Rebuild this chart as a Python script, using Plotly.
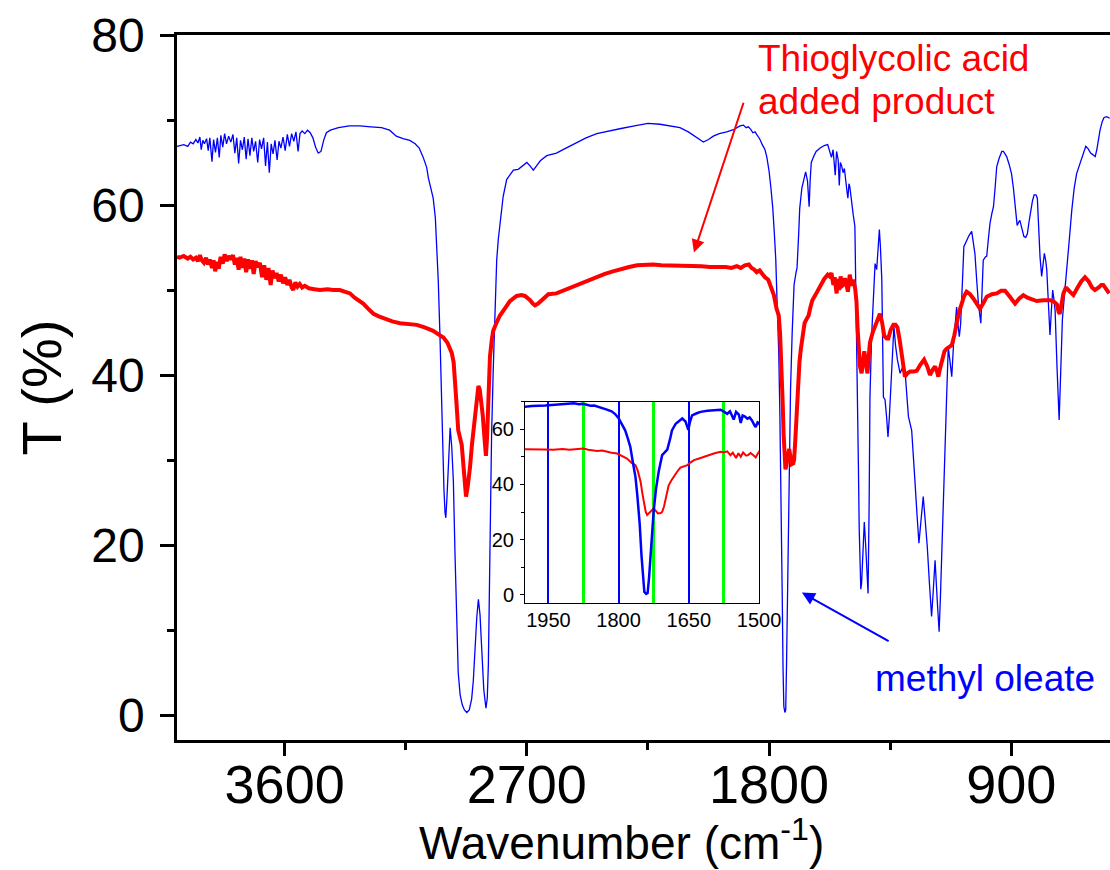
import plotly.graph_objects as go

# ---------------- methyl oleate (blue) ----------------
mo_wn_1 = [4000, 3990, 3975, 3960, 3950, 3940, 3930, 3922, 3915, 3910,
           3904, 3898, 3890, 3884, 3878, 3870, 3864, 3857, 3850, 3843,
           3837, 3830, 3823, 3816, 3808, 3800, 3792, 3785, 3778, 3771,
           3764, 3757, 3750, 3743, 3736, 3729, 3722, 3715, 3708, 3700,
           3693, 3686, 3678, 3671, 3664, 3657, 3650, 3643, 3636, 3628,
           3621, 3614, 3606, 3598, 3590, 3582, 3574, 3566, 3558, 3550,
           3543, 3535, 3525, 3515, 3505, 3495, 3485, 3475, 3465, 3455,
           3445, 3430, 3400, 3360, 3320, 3280, 3240, 3210, 3185, 3160,
           3135, 3115, 3100]
mo_t_1 = [66.9, 67.0, 67.1, 66.9, 67.4, 67.2, 67.7, 67.3, 68.0, 66.5,
          67.6, 67.2, 67.8, 66.4, 67.9, 65.1, 67.7, 66.2, 67.9, 65.6,
          68.2, 66.8, 68.4, 67.2, 68.1, 67.4, 68.3, 66.1, 67.9, 64.9,
          67.6, 66.5, 68.0, 65.4, 67.8, 65.8, 67.9, 66.3, 67.5, 65.0,
          67.7, 66.6, 67.9, 64.6, 67.4, 63.8, 67.2, 66.0, 67.6, 65.3,
          67.5, 66.7, 68.0, 66.4, 68.3, 66.9, 68.4, 67.5, 68.6, 66.3,
          68.4, 68.7, 68.4, 68.8, 68.5, 67.9, 66.8, 66.1, 66.3, 67.6,
          68.5, 68.8, 69.1, 69.3, 69.3, 69.2, 69.1, 68.8, 68.1, 67.8,
          67.6, 67.2, 66.7]

mo_wn_2 = [3085, 3072, 3066, 3058, 3048, 3040, 3035, 3029, 3023, 3018,
           3013, 3008, 3004, 3001, 2997, 2991, 2985, 2979, 2973, 2967,
           2961, 2955, 2948, 2940, 2932, 2923, 2914, 2905, 2899, 2893,
           2886, 2880, 2874, 2868, 2860, 2852, 2847, 2843, 2840, 2837,
           2831, 2825, 2818, 2812, 2806, 2800, 2788, 2775, 2760, 2750,
           2732, 2715, 2700, 2688, 2676, 2664, 2650, 2626, 2590]
mo_t_2 = [65.6, 64.4, 63.2, 62.0, 60.8, 58.5, 55.6, 51.0, 44.8, 38.0,
          31.8, 26.5, 23.8, 23.2, 25.5, 30.5, 33.8, 31.5, 27.5, 19.0,
          10.2, 5.0, 2.4, 1.2, 0.6, 0.3, 0.6, 1.9, 4.0, 8.0,
          11.5, 13.6, 11.8, 8.0, 3.0, 0.8, 2.0, 5.9, 14.0, 23.2,
          33.0, 40.5, 48.0, 53.5, 56.0, 57.8, 61.0, 63.0, 63.7, 64.1,
          64.2, 64.6, 65.0, 64.6, 64.1, 64.6, 65.2, 65.8, 66.1]

mo_wn_3 = [2560, 2520, 2480, 2440, 2400, 2350, 2300, 2250, 2205, 2170,
           2131, 2100, 2081, 2060, 2044, 2025, 2007, 1985, 1957, 1930,
           1908, 1895, 1885, 1877, 1868, 1860, 1852, 1846, 1835, 1825,
           1815, 1808, 1800, 1793, 1786, 1780, 1775, 1770, 1764, 1760,
           1755, 1751, 1748, 1745, 1741, 1738, 1735, 1732, 1728, 1725,
           1720, 1714, 1707, 1700, 1696, 1690, 1686, 1678, 1670, 1664,
           1657, 1651, 1647, 1643, 1633, 1625, 1610, 1595, 1582, 1575,
           1568, 1562, 1558, 1554, 1549, 1543, 1539, 1535, 1530, 1525,
           1520, 1515, 1510, 1507, 1503, 1500]
mo_t_3 = [66.6, 67.3, 67.9, 68.4, 68.7, 69.0, 69.3, 69.6, 69.5, 69.3,
          69.1, 68.6, 68.2, 67.7, 67.4, 67.7, 68.1, 68.4, 68.6, 68.9,
          69.3, 69.4, 69.1, 69.2, 68.9, 68.5, 68.6, 68.3, 67.8, 67.1,
          66.5, 65.6, 64.0, 62.0, 59.6, 56.5, 53.6, 48.5, 42.7, 36.0,
          25.8, 14.0, 5.5, 1.0, 0.3, 0.6, 6.0, 14.0, 23.0, 30.5,
          38.5, 45.0, 50.6, 52.0, 52.6, 56.5, 59.6, 62.0, 63.0, 63.9,
          62.8, 59.8, 63.0, 65.0, 65.8, 66.3, 66.7, 67.0, 67.1, 66.4,
          65.6, 66.5, 65.2, 63.5, 66.3, 65.3, 62.3, 65.0, 64.6, 63.8,
          64.3, 63.2, 61.5, 60.8, 62.5, 62.2]

mo_wn_4 = [1493, 1487, 1481, 1477, 1473, 1468, 1465, 1462, 1459, 1456,
           1451, 1446, 1441, 1436, 1432, 1428, 1425, 1419, 1413, 1406,
           1400, 1396, 1390, 1386, 1381, 1375, 1369, 1363, 1358, 1353,
           1348, 1342, 1336, 1330, 1323, 1313, 1305, 1295, 1288, 1282,
           1270, 1264, 1258, 1250, 1243, 1235, 1227, 1220, 1212, 1204,
           1196, 1190, 1183, 1175, 1168, 1163, 1158, 1152, 1146, 1140,
           1134, 1128, 1121, 1115, 1109, 1103, 1098, 1093, 1088, 1084,
           1080, 1076, 1066, 1057, 1047, 1041, 1035, 1028, 1022, 1013,
           1008, 1004, 996, 991, 985, 979, 972, 966, 960, 954,
           945, 935, 929, 917, 908, 899, 892, 886, 878, 872,
           868, 860, 853, 846, 840, 834, 828, 821, 815, 808,
           803, 798, 793, 787, 782, 777, 772, 768, 762, 756,
           751, 746, 741, 737, 730, 725, 722, 716, 710, 702,
           694, 684, 675, 666, 657, 650, 644, 633, 623, 614,
           605, 596, 588, 582, 577, 570, 562, 555, 545, 534]
mo_t_4 = [60.0, 58.8, 57.5, 50.0, 41.0, 29.6, 22.0, 15.3, 14.8, 15.5,
          19.5, 22.7, 20.0, 15.5, 14.3, 25.0, 37.4, 44.5, 49.2, 53.1,
          52.4, 54.5, 57.1, 55.0, 51.2, 37.4, 37.1, 35.0, 32.7, 35.0,
          37.8, 42.0, 45.7, 43.5, 41.8, 40.2, 40.8, 40.6, 38.0, 35.1,
          33.5, 31.0, 27.6, 23.5, 20.2, 23.0, 25.7, 23.0, 19.8, 15.5,
          11.6, 14.5, 18.2, 13.5, 9.8, 14.0, 19.8, 25.5, 31.6, 37.5,
          43.3, 41.5, 39.8, 43.3, 46.0, 48.0, 46.0, 44.5, 46.0, 48.4,
          52.0, 55.1, 55.9, 56.4, 56.9, 55.8, 54.3, 51.0, 48.4, 46.1,
          50.0, 53.5, 53.9, 54.0, 56.0, 57.8, 59.0, 59.8, 62.0, 64.5,
          65.5, 66.3, 66.3, 65.7, 64.8, 63.7, 62.0, 60.2, 57.6, 58.0,
          58.2, 57.2, 56.3, 56.2, 56.6, 58.0, 59.4, 60.5, 61.2, 61.2,
          60.8, 57.0, 53.9, 51.6, 53.0, 54.3, 53.5, 52.4, 48.5, 44.7,
          47.5, 50.0, 48.8, 47.6, 41.0, 36.5, 34.7, 40.5, 46.5, 49.5,
          52.0, 56.0, 59.4, 62.0, 63.7, 64.4, 64.9, 66.0, 66.9, 66.6,
          66.1, 65.9, 65.7, 66.5, 67.6, 68.8, 69.8, 70.3, 70.4, 70.2]

# ---------------- thioglycolic acid added product (red) ----------------
tga_wn_1 = [4000, 3990, 3975, 3960, 3950, 3940, 3930, 3922, 3915, 3908,
            3900, 3892, 3885, 3878, 3870, 3864, 3858, 3852, 3845, 3838,
            3830, 3823, 3815, 3808, 3800, 3792, 3785, 3778, 3771, 3764,
            3757, 3750, 3743, 3736, 3729, 3722, 3715, 3708, 3700, 3692,
            3684, 3676, 3668, 3660, 3652, 3645, 3638, 3630, 3622, 3614,
            3606, 3598, 3590, 3582, 3574, 3568, 3560, 3552, 3544, 3535,
            3525, 3510, 3490, 3469, 3440, 3420, 3395, 3375, 3357, 3340,
            3325, 3308, 3290, 3270, 3250, 3233, 3200, 3171]
tga_t_1 = [53.9, 53.8, 54.0, 53.7, 53.9, 53.6, 53.8, 53.4, 54.1, 53.5,
           53.2, 53.8, 53.0, 53.6, 52.6, 53.5, 52.2, 53.3, 52.5, 53.9,
           53.1, 54.2, 53.4, 54.0, 53.6, 54.1, 53.0, 53.8, 52.4, 53.9,
           52.6, 53.7, 52.1, 53.6, 52.5, 53.5, 51.9, 53.4, 52.7, 53.2,
           51.5, 52.9, 51.2, 52.6, 50.6, 52.3, 51.4, 52.0, 51.0, 51.8,
           50.8, 51.5, 50.6, 51.2, 50.3, 50.0, 50.9, 50.4, 50.7, 50.3,
           50.5, 50.2, 50.1, 50.0, 50.1, 50.0, 50.0, 49.8, 49.6, 49.1,
           48.8, 48.4, 47.8, 47.2, 46.9, 46.7, 46.3, 46.1]

tga_wn_2 = [3140, 3109, 3080, 3048, 3030, 3010, 2995, 2985, 2979, 2972,
            2967, 2961, 2955, 2948, 2942, 2936, 2931, 2926, 2920, 2915,
            2911, 2904, 2896, 2888, 2880, 2875, 2870, 2864, 2858, 2852,
            2848, 2843, 2840, 2837, 2830, 2825, 2812, 2800, 2780, 2763,
            2738, 2720, 2707, 2695, 2688, 2678, 2670, 2658, 2645, 2630,
            2620]
tga_t_2 = [46.0, 45.9, 45.6, 45.2, 44.8, 44.4, 43.8, 43.0, 42.6, 41.5,
           39.6, 36.5, 33.5, 32.5, 31.8, 29.5, 27.3, 25.7, 26.8, 28.0,
           29.2, 31.8, 34.4, 36.8, 38.7, 38.3, 37.0, 35.3, 32.8, 30.5,
           32.5, 36.2, 39.5, 42.2, 44.2, 45.2, 46.2, 47.0, 47.9, 48.7,
           49.3, 49.4, 49.3, 49.0, 48.8, 48.4, 48.2, 48.4, 48.8, 49.2,
           49.5]

tga_wn_3 = [2590, 2560, 2530, 2500, 2470, 2440, 2410, 2380, 2350, 2320,
            2290, 2260, 2230, 2200, 2170, 2140, 2110, 2080, 2050, 2020,
            2000, 1980, 1960, 1940, 1920, 1905, 1890, 1875, 1865, 1855,
            1846, 1835, 1825, 1815, 1803, 1793, 1782, 1772, 1764, 1759,
            1753, 1749, 1746, 1742, 1739, 1735, 1731, 1725, 1720, 1716,
            1710, 1707, 1703, 1700, 1697, 1693, 1687, 1682, 1675, 1668,
            1660, 1653, 1646, 1639, 1628, 1618, 1605, 1595, 1582, 1575,
            1568, 1561, 1556, 1549, 1544, 1539, 1534, 1528, 1524, 1518,
            1512, 1507, 1503, 1500]
tga_t_3 = [49.6, 50.0, 50.4, 50.8, 51.2, 51.5, 51.9, 52.2, 52.5, 52.7,
           52.9, 53.0, 53.0, 52.9, 52.9, 52.9, 52.8, 52.9, 52.8, 52.7,
           52.7, 52.8, 52.7, 52.6, 52.8, 52.6, 52.9, 53.0, 52.6, 52.4,
           52.1, 52.3, 51.8, 51.5, 51.2, 50.4, 49.4, 47.8, 47.0, 44.9,
           41.0, 36.5, 33.1, 30.0, 28.9, 29.5, 30.2, 31.3, 30.3, 29.5,
           29.6, 30.0, 32.0, 34.3, 36.5, 39.7, 41.5, 43.0, 44.6, 46.1,
           46.6, 47.0, 48.0, 48.8, 49.4, 50.0, 50.8, 51.3, 51.8, 51.6,
           52.0, 50.6, 51.5, 49.6, 51.3, 50.0, 51.6, 50.5, 50.6, 51.4,
           50.6, 49.8, 51.0, 51.8]

tga_wn_4 = [1493, 1487, 1480, 1475, 1471, 1468, 1462, 1456, 1451, 1446,
            1440, 1434, 1430, 1425, 1415, 1406, 1396, 1388, 1380, 1372,
            1363, 1357, 1348, 1338, 1330, 1323, 1315, 1307, 1300, 1295,
            1286, 1276, 1262, 1251, 1238, 1224, 1212, 1202, 1192, 1183,
            1176, 1171, 1165, 1158, 1148, 1140, 1130, 1121, 1112, 1103,
            1094, 1084, 1075, 1066, 1053, 1041, 1028, 1016, 1003, 991,
            972, 954, 938, 923, 905, 895, 886, 870, 855, 840,
            820, 805, 780, 755, 740, 730, 724, 720, 715, 706,
            698, 694, 682, 669, 655, 640, 626, 612, 600, 589,
            575, 565, 558, 548, 536]
tga_t_4 = [50.5, 51.2, 50.2, 48.6, 45.5, 43.3, 41.0, 40.2, 41.5, 42.8,
           41.3, 40.2, 42.0, 43.8, 45.0, 45.8, 46.8, 47.2, 46.2, 44.6,
           44.3, 44.3, 45.3, 45.9, 45.9, 45.6, 44.2, 42.6, 41.0, 39.8,
           40.2, 40.4, 40.4, 40.5, 41.2, 41.8, 41.0, 40.0, 40.6, 41.0,
           40.4, 39.8, 40.7, 41.8, 42.8, 43.1, 43.3, 43.5, 44.6, 46.1,
           47.4, 48.4, 49.3, 49.8, 49.5, 49.0, 48.3, 47.8, 48.5, 49.2,
           49.5, 49.6, 49.9, 49.9, 49.2, 48.7, 48.4, 49.0, 49.4, 49.1,
           48.8, 48.7, 48.8, 48.8, 48.6, 48.3, 47.4, 47.2, 48.0, 49.6,
           50.2, 50.2, 49.8, 49.4, 50.2, 51.0, 51.5, 51.0, 50.3, 50.0,
           50.3, 50.6, 50.6, 50.1, 49.6]

mo_wn = mo_wn_1 + mo_wn_2 + mo_wn_3 + mo_wn_4
mo_t = mo_t_1 + mo_t_2 + mo_t_3 + mo_t_4
tga_wn = tga_wn_1 + tga_wn_2 + tga_wn_3 + tga_wn_4
tga_t = tga_t_1 + tga_t_2 + tga_t_3 + tga_t_4

x_title = "Wavenumber (cm<sup>-1</sup>)"
y_title = "T (%)"
label_tga = ["Thioglycolic acid", "added product"]
label_mo = "methyl oleate"

FONT = "Liberation Sans, Arial, Helvetica, sans-serif"
BLUE = "#0000ff"
RED = "#ff0000"

fig = go.Figure()
fig.add_trace(go.Scatter(x=mo_wn, y=mo_t, mode="lines", name=label_mo,
                         line=dict(color=BLUE, width=1.3), xaxis="x", yaxis="y"))
fig.add_trace(go.Scatter(x=tga_wn, y=tga_t, mode="lines", name=" ".join(label_tga),
                         line=dict(color=RED, width=4), xaxis="x", yaxis="y"))
# inset
fig.add_trace(go.Scatter(x=tga_wn, y=tga_t, mode="lines", showlegend=False,
                         line=dict(color=RED, width=2), xaxis="x2", yaxis="y2"))
fig.add_trace(go.Scatter(x=mo_wn, y=mo_t, mode="lines", showlegend=False,
                         line=dict(color=BLUE, width=2.5), xaxis="x2", yaxis="y2"))

axis_common = dict(showline=True, linecolor="black", zeroline=False, showgrid=False,
                   tickcolor="black", automargin=False)

fig.update_layout(
    width=1110, height=870,
    margin=dict(l=177, r=0, t=35, b=130, autoexpand=False),
    paper_bgcolor="white", plot_bgcolor="white",
    showlegend=False,
    font=dict(family=FONT, color="black"),
    xaxis=dict(**axis_common, range=[4000, 533], tickmode="linear", tick0=900, dtick=900,
               ticks="outside", ticklen=13, tickwidth=2.5, linewidth=2.5, mirror=True,
               tickfont=dict(size=54), ticklabelstandoff=-18,
               minor=dict(tickmode="linear", tick0=1350, dtick=900, ticks="outside",
                          ticklen=7, tickwidth=2.5, tickcolor="black", showgrid=False)),
    yaxis=dict(**axis_common, range=[-2.94, 80], tickmode="linear", tick0=0, dtick=20,
               ticks="outside", ticklen=14, tickwidth=2.5, linewidth=2.5,
               tickfont=dict(size=48), ticklabelstandoff=6,
               title=dict(text=y_title, font=dict(size=56), standoff=12),
               minor=dict(tickmode="linear", tick0=10, dtick=20, ticks="outside",
                          ticklen=7, tickwidth=2.5, tickcolor="black", showgrid=False)),
    xaxis2=dict(domain=[0.373, 0.6238], anchor="y2", range=[2000, 1500],
                tickmode="linear", tick0=1500, dtick=150, ticks="",
                showline=True, linecolor="black", linewidth=1, mirror=True,
                zeroline=False, showgrid=True, gridcolor=BLUE, gridwidth=1.5,
                tickfont=dict(size=20), ticklabelstandoff=-1, automargin=False,
                minor=dict(tickmode="linear", tick0=1575, dtick=150, ticks="",
                           showgrid=True, gridcolor="#00ff00", gridwidth=2.5)),
    yaxis2=dict(domain=[0.1943, 0.4799], anchor="x2", range=[-3, 70],
                tickmode="linear", tick0=0, dtick=20, ticks="outside", ticklen=4,
                tickwidth=1, tickcolor="black", automargin=False,
                showline=True, linecolor="black", linewidth=1, mirror=True,
                zeroline=False, showgrid=False, tickfont=dict(size=20),
                ticklabelstandoff=2,
                minor=dict(tickmode="linear", tick0=10, dtick=20, ticks="outside",
                           ticklen=3, tickwidth=1, tickcolor="black", showgrid=False)),
    annotations=[
        dict(x=1850, y=77.2, xref="x", yref="y", text=label_tga[0], showarrow=False,
             xanchor="left", yanchor="middle", font=dict(size=37, color=RED)),
        dict(x=1850, y=72.2, xref="x", yref="y", text=label_tga[1], showarrow=False,
             xanchor="left", yanchor="middle", font=dict(size=37, color=RED)),
        dict(x=1415, y=4.3, xref="x", yref="y", text=label_mo, showarrow=False,
             xanchor="left", yanchor="middle", font=dict(size=37, color=BLUE)),
        dict(x=2079, y=54.4, ax=1893, ay=72.2, xref="x", yref="y", axref="x", ayref="y",
             text="", showarrow=True, arrowhead=2, arrowsize=1.3, arrowwidth=2,
             arrowcolor=RED),
        dict(x=1678, y=14.4, ax=1350, ay=8.6, xref="x", yref="y", axref="x", ayref="y",
             text="", showarrow=True, arrowhead=2, arrowsize=1.3, arrowwidth=2,
             arrowcolor=BLUE),
        dict(x=0.476, y=-0.1858, xref="paper", yref="paper", text=x_title,
             showarrow=False, xanchor="center", yanchor="bottom",
             font=dict(size=46, color="black")),
    ],
)

fig.write_html("out.html", config={"displayModeBar": False})
